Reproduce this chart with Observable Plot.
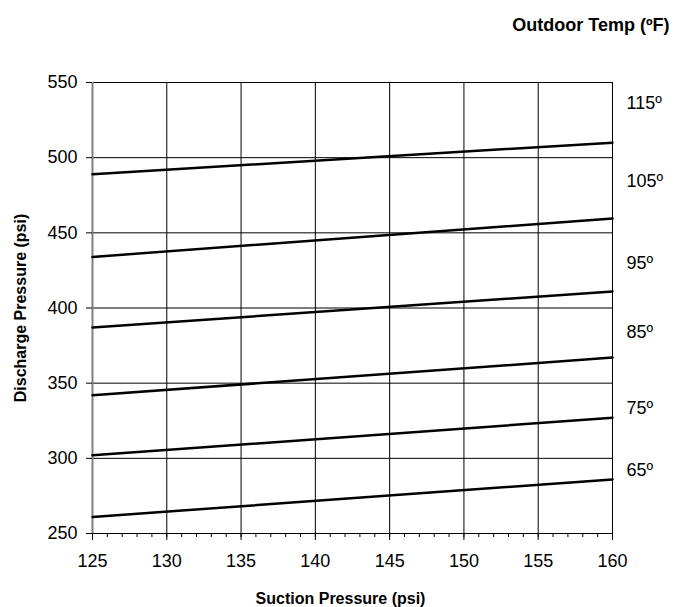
<!DOCTYPE html>
<html>
<head>
<meta charset="utf-8">
<script src="https://cdn.jsdelivr.net/npm/d3@7"></script>
<script src="https://cdn.jsdelivr.net/npm/@observablehq/plot@0.6"></script>
<style>
  html, body { margin: 0; padding: 0; background: white; }
</style>
</head>
<body>
<div id="chart"></div>
<script>
const temps = ["65º", "75º", "85º", "95º", "105º", "115º"];
const suctionRange = [125, 160];
const dischargeAt125 = [261, 302, 342, 387, 434, 489];
const dischargeAt160 = [286, 327, 367, 411, 459.5, 510];
const labelPsi = [292, 333, 384, 430, 484, 536];
const xTicks = [125, 130, 135, 140, 145, 150, 155, 160];
const xMinorTicks = d3.range(125, 161, 1);
const yTicks = [250, 300, 350, 400, 450, 500, 550];

const rows = temps.flatMap((t, i) => [
  {temp: t, suction: suctionRange[0], discharge: dischargeAt125[i]},
  {temp: t, suction: suctionRange[1], discharge: dischargeAt160[i]}
]);
const labels = temps.map((t, i) => ({temp: t, suction: suctionRange[1], discharge: labelPsi[i]}));

const font = "'Liberation Sans', Arial, Helvetica, sans-serif";

const chart = Plot.plot({
  width: 675,
  height: 607,
  marginLeft: 92,
  marginRight: 63,
  marginTop: 82,
  marginBottom: 74,
  style: {fontFamily: font, fontSize: "18px", color: "black", background: "white", overflow: "visible"},
  x: {domain: suctionRange},
  y: {domain: [250, 550]},
  marks: [
    Plot.gridX(xTicks, {stroke: "black", strokeOpacity: 1, strokeWidth: 1}),
    Plot.gridY(yTicks, {stroke: "black", strokeOpacity: 1, strokeWidth: 1}),
    Plot.ruleX([suctionRange[0]], {stroke: "#808080", strokeWidth: 2}),
    Plot.axisX({ticks: xMinorTicks, tickSize: 4, tickFormat: () => "", label: null, stroke: "black"}),
    Plot.axisX({ticks: xTicks, tickSize: 7, tickPadding: 14, label: null, stroke: "black", fontSize: 18}),
    Plot.axisY({ticks: yTicks, tickSize: 6, tickPadding: 9, label: null, stroke: "black", fontSize: 18}),
    Plot.line(rows, {x: "suction", y: "discharge", z: "temp", stroke: "black", strokeWidth: 2.5}),
    Plot.text(labels, {x: "suction", y: "discharge", text: "temp", textAnchor: "start", dx: 14, fontSize: 18}),
    Plot.text(["Outdoor Temp (ºF)"], {frameAnchor: "top-right", text: d => d, textAnchor: "end", lineAnchor: "middle", dx: 57, dy: -57, fontWeight: "bold", fontSize: 18}),
    Plot.text(["Suction Pressure (psi)"], {frameAnchor: "bottom", text: d => d, textAnchor: "middle", lineAnchor: "middle", dx: -12, dy: 65, fontWeight: "bold", fontSize: 16}),
    Plot.text(["Discharge Pressure (psi)"], {frameAnchor: "left", text: d => d, textAnchor: "middle", lineAnchor: "middle", rotate: -90, dx: -72, fontWeight: "bold", fontSize: 16})
  ]
});
document.getElementById("chart").appendChild(chart);
</script>
</body>
</html>
